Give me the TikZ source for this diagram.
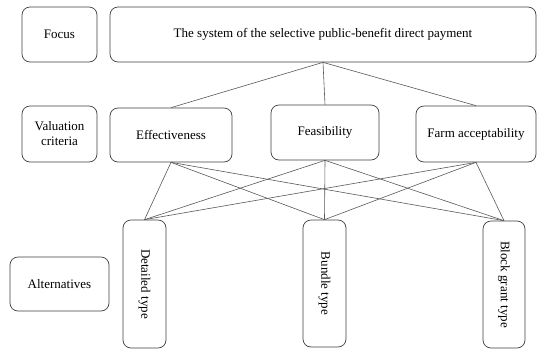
\documentclass[tikz,border=0pt]{standalone}
\usepackage{fontspec}
\setmainfont{Liberation Serif}
\begin{document}
\begin{tikzpicture}[x=1pt,y=-1pt,
  box/.style={draw=black!75, line width=0.7pt, rounded corners=8pt, align=center, inner sep=0pt, font=\fontsize{13}{15}\selectfont},
  link/.style={draw=black!65, line width=0.6pt}]
\useasboundingbox[fill=white] (0,0) rectangle (538,349);
\node[box, minimum width=75pt, minimum height=55pt] (focus) at (59.5,34.5) {Focus};
\node[box, minimum width=426pt, minimum height=55pt] (main) at (323,34.5) {The system of the selective public-benefit direct payment};
\node[box, minimum width=75pt, minimum height=56pt] (val) at (59.5,134) {Valuation\\criteria};
\node[box, minimum width=122pt, minimum height=54pt] (eff) at (171,135) {Effectiveness};
\node[box, minimum width=108pt, minimum height=55pt] (feas) at (325,132.5) {Feasibility};
\node[box, minimum width=120pt, minimum height=56pt] (farm) at (476,134) {Farm acceptability};
\node[box, minimum width=99pt, minimum height=54pt] (alt) at (59.5,284) {Alternatives};
\node[box, minimum width=128pt, minimum height=43pt, rotate=-90] (det) at (144.5,284) {Detailed type};
\node[box, minimum width=127pt, minimum height=43pt, rotate=-90] (bun) at (324.5,283.5) {Bundle type};
\node[box, minimum width=127pt, minimum height=42pt, rotate=-90] (blk) at (504,284.5) {Block grant type};
\foreach \c in {eff,feas,farm}{
  \draw[link] (main.south) -- (\c.north);
}
\foreach \c in {eff,feas,farm}{
  \foreach \a in {det,bun,blk}{
    \draw[link] (\c.south) -- (\a.west);
  }
}
\end{tikzpicture}
\end{document}
